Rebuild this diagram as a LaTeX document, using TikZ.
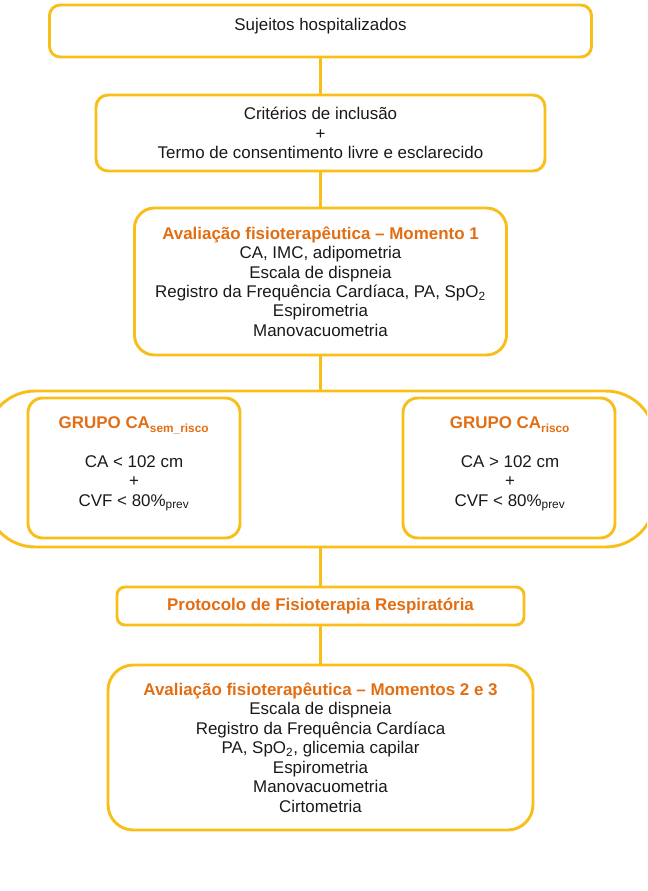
\documentclass[tikz,border=0pt]{standalone}
\usepackage{fontspec}
\setmainfont{Liberation Sans}
\definecolor{ouro}{RGB}{248,190,25}
\definecolor{laranja}{RGB}{226,110,20}
\newcommand\fonte{\fontsize{12.7}{14.6}\selectfont}
\tikzset{
    caixa/.style={draw=ouro, line width=2.2pt, rounded corners=#1, inner sep=0pt, align=center},
    caixa/.default=8pt,
    liga/.style={draw=ouro, line width=2.2pt},
    titulo/.style={font=\fonte\bfseries, text=laranja},
}
\begin{document}
\begin{tikzpicture}[x=0.75pt, y=-0.75pt, font=\fonte, text=black!90]
    \pgfmathsetmacro\px{0.75};
    \pgfmathsetmacro\meio{320.5};

    \path[use as bounding box] (0,0) rectangle (647,891);
    \clip (0,0) rectangle (647,891);

    \node[caixa, minimum width=542*\px pt, minimum height=52*\px pt] (sujeitos) at (\meio, 31) {};
    \node (sujeitostxt) at (\meio, 26) {Sujeitos hospitalizados};

    \node[caixa=9pt, minimum width=449*\px pt, minimum height=76*\px pt] (criterios) at (\meio, 133)
        {Critérios de inclusão\\+\\Termo de consentimento livre e esclarecido};

    \node[caixa=15pt, minimum width=372*\px pt, minimum height=147*\px pt] (momento1) at (\meio, 281.5)
        {\textcolor{laranja}{\bfseries Avaliação fisioterapêutica – Momento 1}\\
         CA, IMC, adipometria\\
         Escala de dispneia\\
         Registro da Frequência Cardíaca, PA, SpO\textsubscript{2}\\
         Espirometria\\
         Manovacuometria};

    \node[caixa=37pt, minimum width=669*\px pt, minimum height=156*\px pt] (grupos) at (\meio, 469) {};

    \node[caixa=11pt, minimum width=212*\px pt, minimum height=140*\px pt] (semrisco) at (134, 468) {};
    \node[align=center] (semriscotxt) at (134, 464)
        {\textcolor{laranja}{\bfseries GRUPO CA\textsubscript{sem\_risco}}\\[14pt]
         CA < 102 cm\\+\\CVF < 80\%\textsubscript{prev}};

    \node[caixa=11pt, minimum width=212*\px pt, minimum height=140*\px pt] (risco) at (509, 468) {};
    \node[align=center] (riscotxt) at (510, 464)
        {\textcolor{laranja}{\bfseries GRUPO CA\textsubscript{risco}}\\[14pt]
         CA > 102 cm\\+\\CVF < 80\%\textsubscript{prev}};

    \node[caixa=6pt, minimum width=407*\px pt, minimum height=38*\px pt, titulo] (protocolo) at (\meio, 606)
        {Protocolo de Fisioterapia Respiratória};

    \node[caixa=19pt, minimum width=425*\px pt, minimum height=165*\px pt] (momento23) at (\meio, 747.5)
        {\textcolor{laranja}{\bfseries Avaliação fisioterapêutica – Momentos 2 e 3}\\
         Escala de dispneia\\
         Registro da Frequência Cardíaca\\
         PA, SpO\textsubscript{2}, glicemia capilar\\
         Espirometria\\
         Manovacuometria\\
         Cirtometria};

    \foreach \a/\b in {sujeitos/criterios, criterios/momento1, momento1/grupos, grupos/protocolo, protocolo/momento23}
        \draw[liga] (\a.south) -- (\b.north);
\end{tikzpicture}
\end{document}
